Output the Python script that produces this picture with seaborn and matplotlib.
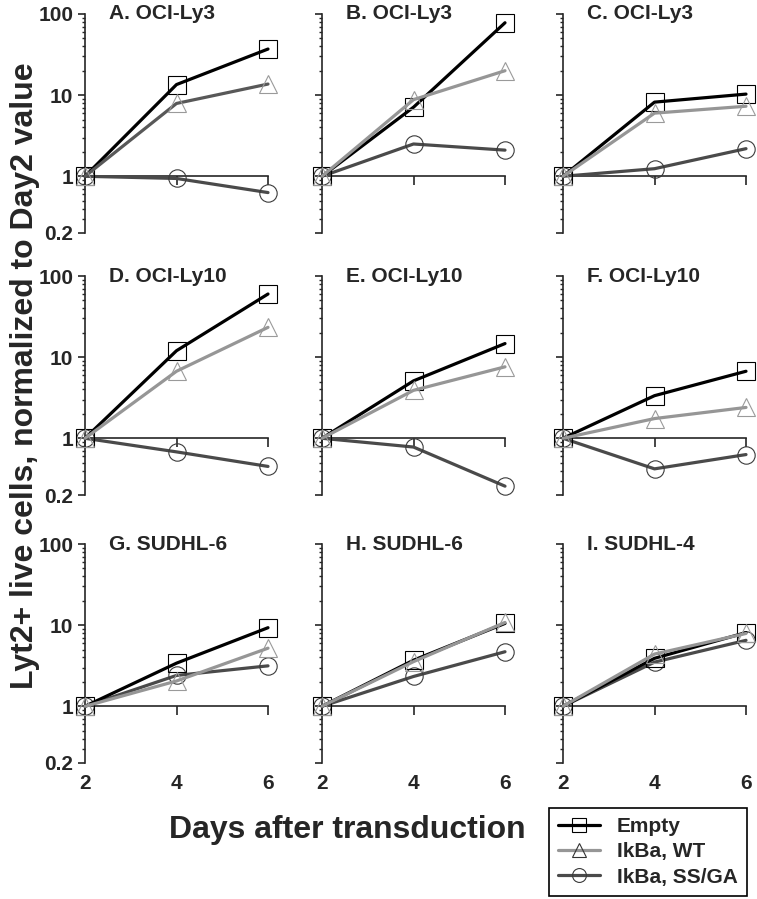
import matplotlib
matplotlib.use("Agg")
import matplotlib.pyplot as plt
import matplotlib.ticker as mticker
import numpy as np
import pandas as pd
import seaborn as sns

# ---------------- data ----------------
days = [2, 4, 6]
panel_titles = ["A. OCI-Ly3", "B. OCI-Ly3", "C. OCI-Ly3",
                "D. OCI-Ly10", "E. OCI-Ly10", "F. OCI-Ly10",
                "G. SUDHL-6", "H. SUDHL-6", "I. SUDHL-4"]
series_names = ["Empty", "IkBa, WT", "IkBa, SS/GA"]

empty_vals = [[1, 13.5, 37], [1, 7.1, 78], [1, 8.2, 10.3],
              [1, 12.0, 60], [1, 5.1, 14.7], [1, 3.35, 6.7],
              [1, 3.4, 9.3], [1, 3.7, 10.5], [1, 3.9, 8.1]]
wt_vals = [[1, 7.9, 13.7], [1, 8.8, 20], [1, 6.0, 7.3],
           [1, 6.7, 23.3], [1, 3.9, 7.6], [1, 1.75, 2.4],
           [1, 2.05, 5.2], [1, 3.55, 10.8], [1, 4.4, 7.9]]
ssga_vals = [[1, 0.94, 0.63], [1, 2.5, 2.1], [1, 1.24, 2.19],
             [1, 0.68, 0.45], [1, 0.78, 0.257], [1, 0.42, 0.63],
             [1, 2.4, 3.15], [1, 2.33, 4.7], [1, 3.5, 6.5]]

y_major = [0.2, 1, 10, 100]
y_major_labels = ["0.2", "1", "10", "100"]

# ---------------- style ----------------
sns.set_style("ticks")
plt.rcParams["font.family"] = ["Liberation Sans", "DejaVu Sans"]
plt.rcParams["font.weight"] = "bold"

line_colors = {"Empty": "#000000", "IkBa, WT": "#969696", "IkBa, SS/GA": "#4a4a4a"}
edge_colors = {"Empty": "#000000", "IkBa, WT": "#9a9a9a", "IkBa, SS/GA": "#3a3a3a"}
markers = {"Empty": "s", "IkBa, WT": "^", "IkBa, SS/GA": "o"}
wt_panel_colors = ["#585858"] + ["#969696"] * 8
zorders = {"IkBa, SS/GA": 3, "Empty": 4, "IkBa, WT": 5}

fig = plt.figure(figsize=(7.57, 8.99), dpi=100)
W, H = 757.0, 899.0
col_left = [85, 322, 563]
row_top = [14, 276, 544]
ax_w, ax_h = 183, 219

all_vals = {"Empty": empty_vals, "IkBa, WT": wt_vals, "IkBa, SS/GA": ssga_vals}

for i, title in enumerate(panel_titles):
    r, c = divmod(i, 3)
    ax = fig.add_axes([col_left[c] / W, 1 - (row_top[r] + ax_h) / H, ax_w / W, ax_h / H])
    for name in ["IkBa, SS/GA", "Empty", "IkBa, WT"]:
        df = pd.DataFrame({"day": days, "value": all_vals[name][i]})
        col = line_colors[name]
        if name == "IkBa, WT":
            col = wt_panel_colors[i]
        sns.lineplot(data=df, x="day", y="value", ax=ax, color=col,
                     marker=markers[name], markersize=12.5,
                     mfc="none", mec=edge_colors[name], mew=0.8,
                     lw=2.3, clip_on=False, zorder=zorders[name], legend=False)
    ax.set_yscale("log")
    ax.set_ylim(0.2, 100)
    ax.set_xlim(2, 6)
    ax.spines["top"].set_visible(False)
    ax.spines["right"].set_visible(False)
    ax.spines["bottom"].set_position(("data", 1))
    ax.spines["left"].set_linewidth(1.2)
    ax.spines["bottom"].set_linewidth(1.2)
    ax.set_xticks(days)
    ax.set_xticklabels([])
    ax.tick_params(axis="x", direction="out", length=6.5, width=1.2)
    ax.set_yticks(y_major)
    ax.yaxis.set_minor_locator(mticker.LogLocator(base=10, subs=np.arange(2, 10) * 1.0, numticks=20))
    ax.yaxis.set_minor_formatter(mticker.NullFormatter())
    ax.tick_params(axis="y", which="major", direction="out", length=5, width=1.2, pad=3.5)
    ax.tick_params(axis="y", which="minor", direction="out", length=2.5, width=1.0)
    if c == 0:
        ax.set_yticklabels(y_major_labels, fontsize=15, fontweight="bold")
    else:
        ax.set_yticklabels([])
    ax.set_xlabel("")
    ax.set_ylabel("")
    ax.text(0.13, 1.0, title, transform=ax.transAxes, ha="left", va="center",
            fontsize=15, fontweight="bold")
    if r == 2:
        for d in days:
            ax.annotate(str(d), xy=(d, 0), xycoords=("data", "axes fraction"),
                        xytext=(0, -15), textcoords="offset points",
                        ha="center", va="center", fontsize=15, fontweight="bold",
                        annotation_clip=False)

fig.text(25 / W, 1 - 376 / H, "Lyt2+ live cells, normalized to Day2 value",
         rotation=90, ha="center", va="center", fontsize=23, fontweight="bold")
fig.text(347 / W, 1 - 830 / H, "Days after transduction",
         ha="center", va="center", fontsize=23, fontweight="bold")

handles = []
for name in series_names:
    h, = plt.plot([], [], color=line_colors[name], marker=markers[name], ms=10,
                  mfc="none", mec=edge_colors[name] if name != "IkBa, WT" else "#333333",
                  mew=0.8, lw=2.3)
    handles.append(h)
leg = fig.legend(handles, series_names, loc="lower right",
                 bbox_to_anchor=(747 / W, 3 / H), bbox_transform=fig.transFigure,
                 frameon=True, fancybox=False, edgecolor="black", framealpha=1,
                 prop={"size": 15, "weight": "bold"}, handlelength=2.0,
                 handletextpad=0.8, labelspacing=0.3, borderpad=0.45, borderaxespad=0)
leg.get_frame().set_linewidth(1.2)

fig.savefig("out.png", dpi=100)
